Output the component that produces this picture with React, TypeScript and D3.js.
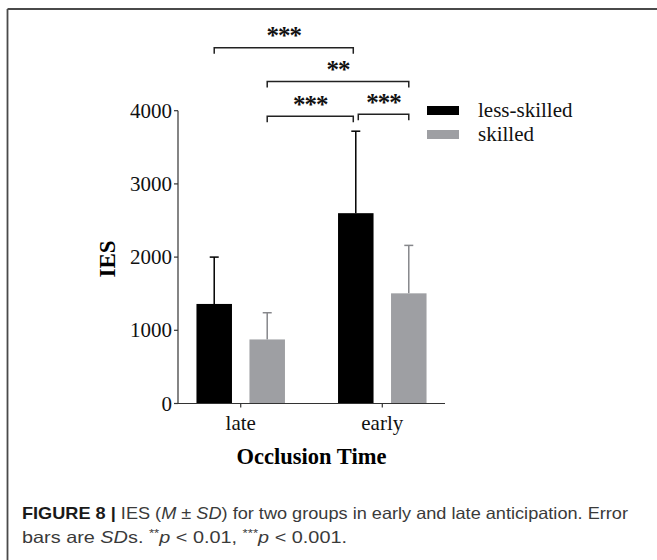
import React from "react";
import * as d3 from "d3";

const occlusion = ["late", "early"];
const groups = ["less-skilled", "skilled"];
const meanLessSkilled = [1360, 2600];
const sdLessSkilled = [640, 1120];
const meanSkilled = [875, 1505];
const sdSkilled = [365, 655];
const yTicks = [0, 1000, 2000, 3000, 4000];

// comparisons: [occlusion, group] vs [occlusion, group], bracket height (data units), label
const compFrom = [["late", "less-skilled"], ["late", "skilled"], ["late", "skilled"], ["early", "less-skilled"]];
const compTo = [["early", "less-skilled"], ["early", "skilled"], ["early", "less-skilled"], ["early", "skilled"]];
const compLevel = [4860, 4400, 3925, 3950];
const compLabel = ["***", "**", "***", "***"];

const W = 657;
const H = 560;
const serif = "'Liberation Serif', 'Times New Roman', Times, serif";
const sans = "'Liberation Sans', Arial, Helvetica, sans-serif";
const colors: Record<string, string> = { "less-skilled": "#000000", skilled: "#9e9fa3" };
const errColors: Record<string, string> = { "less-skilled": "#000000", skilled: "#86878b" };

export default function App() {
  const x0 = d3.scalePoint<string>().domain(occlusion).range([178, 445]).padding(0.443);
  const x1 = d3.scaleBand<string>().domain(groups).range([-44.25, 44.25]).paddingInner(0.33).paddingOuter(0);
  const y = d3.scaleLinear().domain([0, 4000]).range([403.5, 110.7]);
  const bw = x1.bandwidth();

  const means: Record<string, number[]> = { "less-skilled": meanLessSkilled, skilled: meanSkilled };
  const sds: Record<string, number[]> = { "less-skilled": sdLessSkilled, skilled: sdSkilled };

  const barCenter = (o: string, g: string) => (x0(o) as number) + (x1(g) as number) + bw / 2;

  const bars: any[] = [];
  occlusion.forEach((o, i) => {
    groups.forEach((g) => {
      bars.push({ o, g, mean: means[g][i], sd: sds[g][i] });
    });
  });

  const axisX0 = x0.range()[0];
  const axisX1 = x0.range()[1];

  return (
    <div style={{ position: "absolute", left: 0, top: 0 }}>
      <svg width={W} height={H} style={{ display: "block", background: "#fff" }}>
        {/* frame */}
        <line x1={7.5} x2={W} y1={9} y2={9} stroke="#4a4a4a" strokeWidth={1.8} />
        <line x1={7.5} x2={7.5} y1={9} y2={H} stroke="#4a4a4a" strokeWidth={1.8} />

        {/* bars */}
        {bars.map((b, i) => {
          const cx = barCenter(b.o, b.g);
          return (
            <g key={i}>
              <line x1={cx} x2={cx} y1={y(b.mean)} y2={y(b.mean + b.sd)} stroke={errColors[b.g]} strokeWidth={1.5} />
              <line x1={cx - 4.5} x2={cx + 4.5} y1={y(b.mean + b.sd)} y2={y(b.mean + b.sd)} stroke={errColors[b.g]} strokeWidth={1.5} />
              <rect x={cx - bw / 2} y={y(b.mean)} width={bw} height={y(0) - y(b.mean)} fill={colors[b.g]} />
            </g>
          );
        })}

        {/* y axis */}
        <line x1={axisX0} x2={axisX0} y1={y(4000)} y2={y(0)} stroke="#333" strokeWidth={1.2} />
        {yTicks.map((t) => (
          <g key={t}>
            <line x1={axisX0 - 4} x2={axisX0} y1={y(t)} y2={y(t)} stroke="#333" strokeWidth={1.2} />
            <text x={axisX0 - 6} y={y(t)} dy="0.34em" textAnchor="end" fontFamily={serif} fontSize={21} fill="#111">
              {t}
            </text>
          </g>
        ))}

        {/* x axis */}
        <line x1={axisX0} x2={axisX1} y1={y(0)} y2={y(0)} stroke="#333" strokeWidth={1.2} />
        {occlusion.map((o) => (
          <g key={o}>
            <line x1={x0(o)} x2={x0(o)} y1={y(0)} y2={y(0) + 4} stroke="#333" strokeWidth={1.2} />
            <text x={x0(o)} y={429.5} textAnchor="middle" fontFamily={serif} fontSize={21} fill="#111">
              {o}
            </text>
          </g>
        ))}

        {/* axis titles */}
        <text x={(axisX0 + axisX1) / 2} y={464} textAnchor="middle" fontFamily={serif} fontWeight="bold" fontSize={22.5} fill="#000">
          Occlusion Time
        </text>
        <text transform={`translate(115, ${259}) rotate(-90)`} textAnchor="middle" fontFamily={serif} fontWeight="bold" fontSize={23} fill="#000">
          IES
        </text>

        {/* significance brackets */}
        {compFrom.map((f, i) => {
          const t = compTo[i];
          let xa = barCenter(f[0], f[1]);
          let xb = barCenter(t[0], t[1]);
          if (f[0] === "early" && f[1] === "less-skilled") xa += 2.5;
          if (t[0] === "early" && t[1] === "less-skilled") xb -= 2.5;
          const yl = y(compLevel[i]);
          return (
            <g key={i}>
              <path d={`M${xa},${yl + 6}V${yl}H${xb}V${yl + 6}`} fill="none" stroke="#222" strokeWidth={1.5} />
              <text x={(xa + xb) / 2} y={yl - 3.5} textAnchor="middle" fontFamily={serif} fontWeight="bold" fontSize={25} letterSpacing={-1} fill="#111">
                {compLabel[i]}
              </text>
            </g>
          );
        })}

        {/* legend */}
        {groups.map((g, i) => (
          <g key={g} transform={`translate(427, ${106 + i * 24})`}>
            <rect x={0} y={0} width={32} height={9} fill={colors[g]} />
            <text x={51} y={10.7} fontFamily={serif} fontSize={21} fill="#111">
              {g}
            </text>
          </g>
        ))}

        {/* caption */}
        <text x={22} y={518.5} fontFamily={sans} fontSize={16.5} fill="#3a3a3a" textLength={606} lengthAdjust="spacingAndGlyphs">
          <tspan fontWeight="bold" fill="#1a1a1a">FIGURE 8 |</tspan>
          <tspan> IES (</tspan>
          <tspan fontStyle="italic">M</tspan>
          <tspan> ± </tspan>
          <tspan fontStyle="italic">SD</tspan>
          <tspan>) for two groups in early and late anticipation. Error</tspan>
        </text>
        <text x={22} y={543} fontFamily={sans} fontSize={16.5} fill="#3a3a3a" textLength={325} lengthAdjust="spacingAndGlyphs">
          <tspan>bars are </tspan>
          <tspan fontStyle="italic">SD</tspan>
          <tspan>s. </tspan>
          <tspan fontSize={11} dy={-6}>**</tspan>
          <tspan fontStyle="italic" dy={6}>p</tspan>
          <tspan> &lt; 0.01, </tspan>
          <tspan fontSize={11} dy={-6}>***</tspan>
          <tspan fontStyle="italic" dy={6}>p</tspan>
          <tspan> &lt; 0.001.</tspan>
        </text>
      </svg>
    </div>
  );
}
